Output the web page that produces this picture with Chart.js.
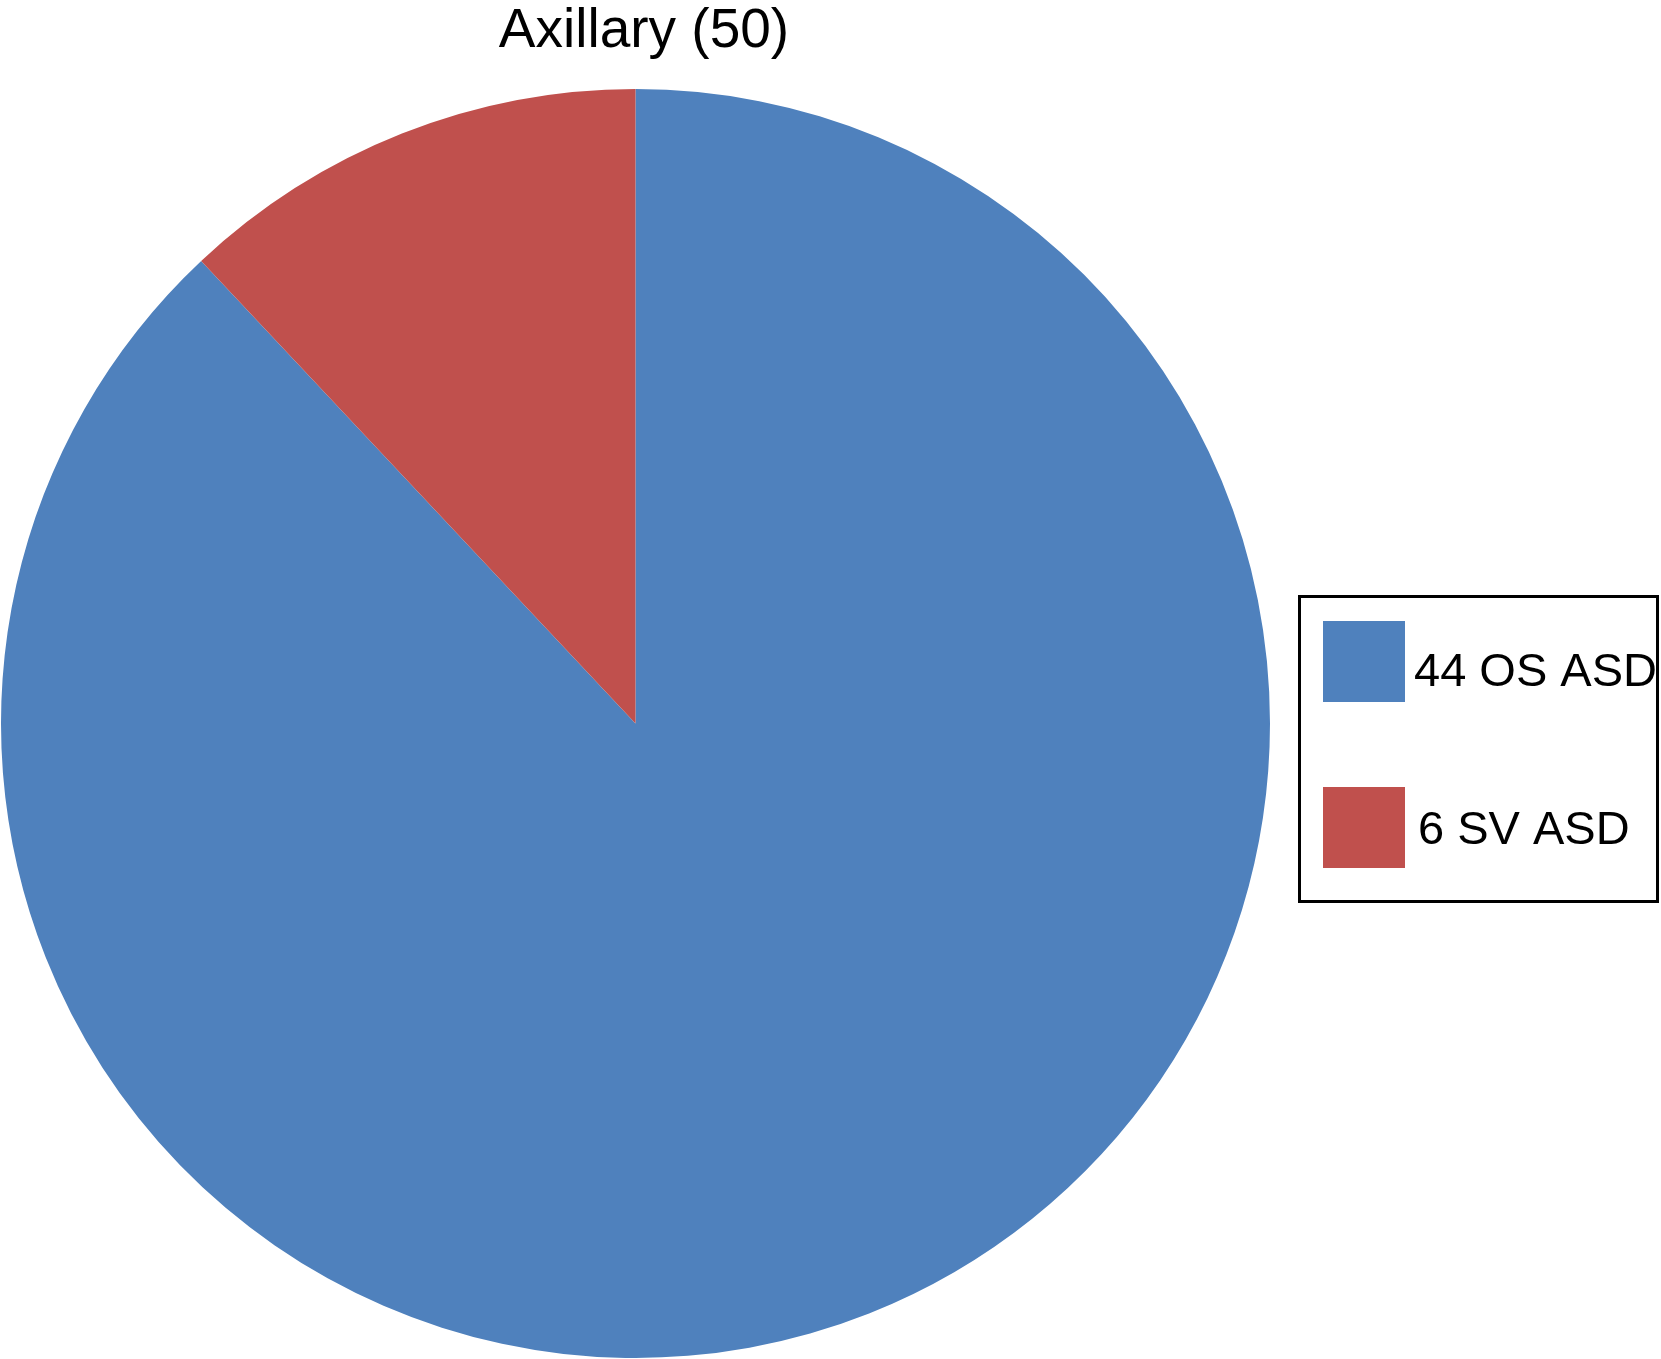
<!DOCTYPE html>
<html>
<head>
<meta charset="utf-8">
<script src="https://cdn.jsdelivr.net/npm/chart.js@4"></script>
<style>
html,body{margin:0;padding:0;background:#fff;}
#wrap{width:1661px;height:1359px;position:relative;}
</style>
</head>
<body>
<div id="wrap"><canvas id="c" width="1661" height="1359"></canvas></div>
<script>
const titleText = "Axillary (50)";
const categories = ["44 OS ASD", "6 SV ASD"];
const values = [44, 6];
const colors = ["#4F81BD", "#C0504D"];

const FONT = '"Liberation Sans", Arial, sans-serif';

const overlay = {
  id: 'overlay',
  afterDraw(chart) {
    const ctx = chart.ctx;
    ctx.save();
    // title
    ctx.fillStyle = '#000';
    ctx.font = '55px ' + FONT;
    ctx.textAlign = 'center';
    ctx.textBaseline = 'alphabetic';
    ctx.fillText(titleText, 644, 47);
    // legend box
    ctx.lineWidth = 3;
    ctx.strokeStyle = '#000';
    ctx.strokeRect(1299.5, 596.5, 358, 305);
    const labels = chart.data.labels;
    const bg = chart.data.datasets[0].backgroundColor;
    const rows = [{sy: 621, ty: 686, tx: 1414}, {sy: 787, ty: 844, tx: 1418}];
    ctx.font = '47px ' + FONT;
    ctx.textAlign = 'left';
    labels.forEach((lab, i) => {
      const r = rows[i];
      ctx.fillStyle = bg[i];
      ctx.fillRect(1323, r.sy, 82, 81);
      ctx.fillStyle = '#000';
      ctx.fillText(lab, r.tx, r.ty);
    });
    ctx.restore();
  }
};

new Chart(document.getElementById('c'), {
  type: 'pie',
  data: {
    labels: categories,
    datasets: [{
      data: values,
      backgroundColor: colors,
      borderWidth: 0
    }]
  },
  options: {
    responsive: false,
    animation: false,
    layout: { padding: { left: 0, right: 390, top: 89, bottom: 1 } },
    plugins: {
      legend: { display: false },
      title: { display: false },
      tooltip: { enabled: false }
    }
  },
  plugins: [overlay]
});
</script>
</body>
</html>
